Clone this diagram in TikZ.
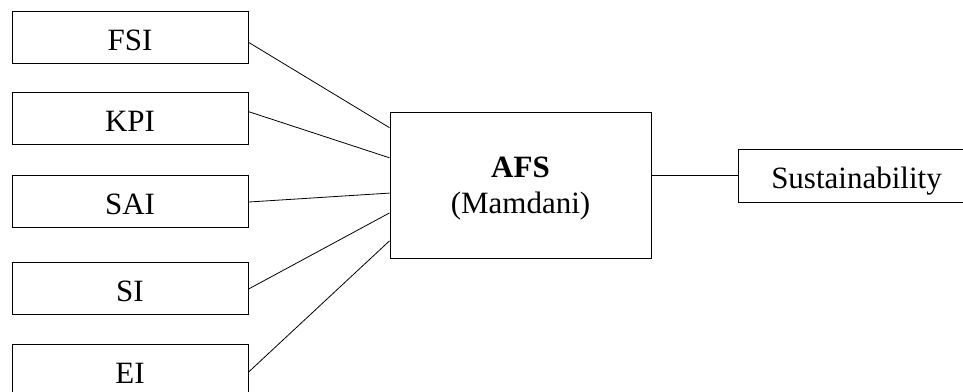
\documentclass[tikz,border=0pt]{standalone}
\usepackage{fontspec}
\setmainfont{Liberation Serif}
\usetikzlibrary{calc}
\begin{document}
\begin{tikzpicture}[x=1pt,y=-1pt,
  box/.style={draw=black,line width=1pt,rectangle,inner sep=0pt,
    minimum width=236pt,minimum height=52pt,
    font=\fontsize{31}{36}\selectfont,text height=29pt,text depth=3pt},
  link/.style={draw=black,line width=0.8pt}]
\useasboundingbox (0,0) rectangle (963,391);
\fill[white] (0,0) rectangle (963,391);
\node[box] (fsi) at (130,37) {FSI};
\node[box] (kpi) at (130,118.5) {KPI};
\node[box] (sai) at (130,201.5) {SAI};
\node[box] (si) at (130,288) {SI};
\node[box] (ei) at (130,370) {EI};
\node[box,minimum width=261pt,minimum height=146pt,text height=0pt,text depth=0pt] (afs) at (520.5,185) {};
\node[font=\fontsize{31}{36}\selectfont\bfseries,anchor=base] (afst) at (520.5,177) {AFS};
\node[font=\fontsize{31}{36}\selectfont,anchor=base] (mamt) at (520.5,213) {(Mamdani)};
\node[box,minimum width=237pt,minimum height=53pt] (sus) at (856.5,175.5) {Sustainability};
\draw[link] ($(fsi.north east)!0.6!(fsi.south east)$) -- ($(afs.north west)!0.11!(afs.south west)$);
\draw[link] ($(kpi.north east)!0.37!(kpi.south east)$) -- ($(afs.north west)!0.315!(afs.south west)$);
\draw[link] ($(sai.north east)!0.51!(sai.south east)$) -- ($(afs.north west)!0.555!(afs.south west)$);
\draw[link] ($(si.north east)!0.52!(si.south east)$) -- ($(afs.north west)!0.69!(afs.south west)$);
\draw[link] ($(ei.north east)!0.54!(ei.south east)$) -- ($(afs.north west)!0.88!(afs.south west)$);
\draw[link] (afs.east |- sus.west) -- (sus.west);
\end{tikzpicture}
\end{document}
